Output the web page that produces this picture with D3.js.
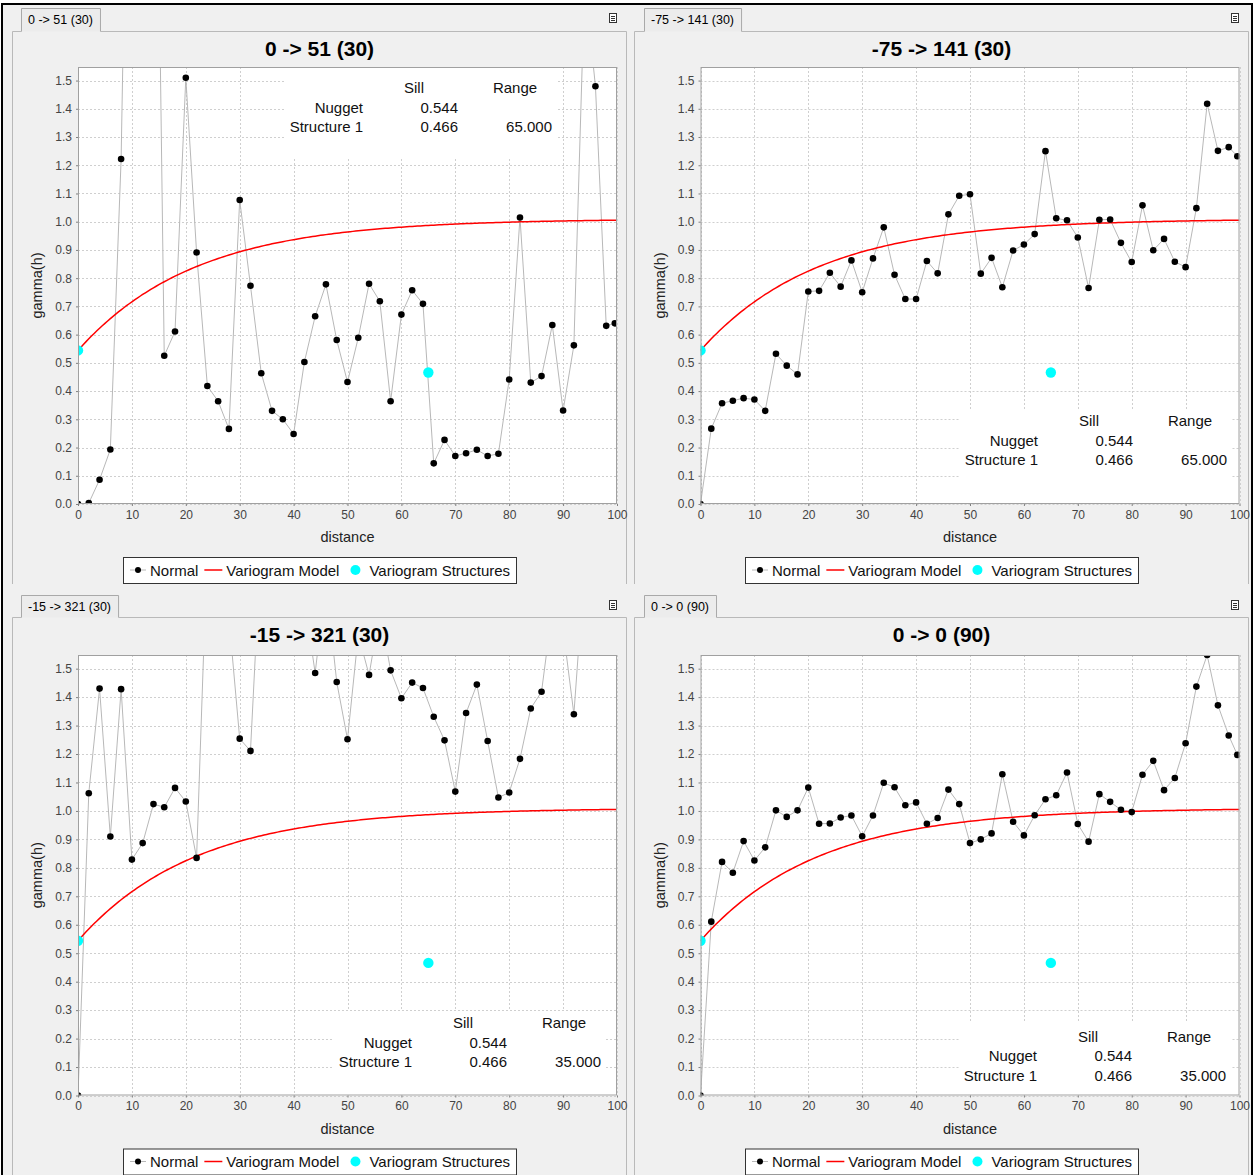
<!DOCTYPE html>
<html>
<head>
<meta charset="utf-8">
<script src="https://cdn.jsdelivr.net/npm/d3@7"></script>
<style>
  html, body { margin: 0; padding: 0; background: #ffffff; }
  svg { display: block; font-family: "Liberation Sans", Arial, sans-serif; }
</style>
</head>
<body>
<svg id="chart" width="1256" height="1175"></svg>
<script>
// ---- experimental variogram lags (distance) shared by all four directions ----
const lagDistances = [0, 2, 4, 6, 8, 10, 12, 14, 16, 18, 20, 22, 24, 26, 28, 30, 32, 34, 36, 38,
  40, 42, 44, 46, 48, 50, 52, 54, 56, 58, 60, 62, 64, 66, 68, 70, 72, 74, 76, 78,
  80, 82, 84, 86, 88, 90, 92, 94, 96, 98, 99.6];

// ---- gamma(h) per direction ----
const gamma0to51 = [0, 0.003, 0.086, 0.193, 1.222, 3.4, 3.1, 3.4, 0.525, 0.611, 1.51, 0.891, 0.418, 0.364, 0.266,
  1.077, 0.773, 0.463, 0.330, 0.300, 0.248, 0.503, 0.665, 0.778, 0.581, 0.432, 0.589, 0.780, 0.718, 0.364,
  0.671, 0.757, 0.709, 0.144, 0.227, 0.170, 0.180, 0.192, 0.170, 0.178, 0.441, 1.015, 0.430, 0.453, 0.634,
  0.331, 0.562, 1.85, 1.480, 0.631, 0.640];

const gammaM75to141 = [0, 0.267, 0.357, 0.366, 0.375, 0.370, 0.330, 0.532, 0.490, 0.459, 0.753, 0.755, 0.819,
  0.770, 0.863, 0.750, 0.870, 0.980, 0.812, 0.726, 0.726, 0.861, 0.817, 1.026, 1.092, 1.097, 0.816, 0.872,
  0.768, 0.898, 0.919, 0.956, 1.250, 1.012, 1.005, 0.944, 0.765, 1.007, 1.008, 0.925, 0.857, 1.058, 0.899,
  0.939, 0.858, 0.839, 1.048, 1.418, 1.251, 1.264, 1.232];

const gammaM15to321 = [0, 1.062, 1.430, 0.910, 1.428, 0.829, 0.887, 1.024, 1.013, 1.081, 1.033, 0.835, 1.94,
  1.9, 1.68, 1.254, 1.211, 1.96, 2.0, 1.9, 1.8, 1.745, 1.485, 1.81, 1.453, 1.252, 1.62, 1.478, 1.7, 1.494,
  1.396, 1.451, 1.432, 1.331, 1.248, 1.068, 1.344, 1.444, 1.246, 1.047, 1.065, 1.183, 1.360, 1.419, 1.71,
  1.64, 1.340, 1.865, 1.9, 1.75, 1.8];

const gamma0to0 = [0, 0.611, 0.821, 0.783, 0.894, 0.826, 0.872, 1.002, 0.979, 1.002, 1.082, 0.955, 0.956,
  0.977, 0.984, 0.911, 0.984, 1.099, 1.083, 1.020, 1.030, 0.955, 0.975, 1.075, 1.024, 0.887, 0.900, 0.921,
  1.129, 0.962, 0.914, 0.985, 1.041, 1.055, 1.135, 0.954, 0.892, 1.059, 1.032, 1.004, 0.996, 1.127, 1.176,
  1.073, 1.116, 1.238, 1.437, 1.548, 1.371, 1.265, 1.197];

// ---- direction titles ----
const directionTitles = ["0 -> 51 (30)", "-75 -> 141 (30)", "-15 -> 321 (30)", "0 -> 0 (90)"];

// ---- fitted model (nugget + one exponential structure) ----
const modelNugget = 0.544;
const modelSill = 0.466;
const modelRange = 65;

// ---- structure markers (distance, gamma) ----
const structureDistances = [0, 65];
const structureGammas = [0.544, 0.466];

// ---- model table text ----
const tableRowLabels = ["Nugget", "Structure 1"];
const tableSillLabels = ["0.544", "0.466"];
const tableRangeLabels = ["65.000", "65.000", "35.000", "35.000"];

// ---- axes ----
const xTickValues = [0, 10, 20, 30, 40, 50, 60, 70, 80, 90, 100];
const yTickValues = [0, 0.1, 0.2, 0.3, 0.4, 0.5, 0.6, 0.7, 0.8, 0.9, 1.0, 1.1, 1.2, 1.3, 1.4, 1.5];
const legendLabels = ["Normal", "Variogram Model", "Variogram Structures"];

const gammaSeries = [gamma0to51, gammaM75to141, gammaM15to321, gamma0to0];

// ---- page layout ----
const layouts = [
  { frame: [12, 31, 615, 553], tab: [21, 8], plot: [78, 67, 617, 504],
    table: { x: 285, y: 67, w: 272, h: 90, head: 88 } },
  { frame: [634, 31, 615, 553], tab: [644, 8], plot: [700.5, 67, 1239.5, 504],
    table: { x: 960, y: 410, w: 272, h: 94, head: 421 } },
  { frame: [12, 617, 615, 575], tab: [21, 595], plot: [78, 655, 617, 1095.5],
    table: { x: 334, y: 1011, w: 272, h: 85, head: 1023 } },
  { frame: [634, 617, 615, 575], tab: [644, 595], plot: [700.5, 655, 1239.5, 1095.5],
    table: { x: 959, y: 1022, w: 272, h: 74, head: 1036.5 } }
];

const BG = "#f0f0f0";
const svg = d3.select("#chart");

// outer window
svg.append("rect").attr("x", 0).attr("y", 0).attr("width", 1256).attr("height", 1175).attr("fill", "#ffffff");
svg.append("rect").attr("x", 2).attr("y", 4).attr("width", 1250).attr("height", 1190)
  .attr("fill", BG).attr("stroke", "#000").attr("stroke-width", 2);

const yMax = 1.548;
const modelFn = h => modelNugget + modelSill * (1 - Math.exp(-3 * h / modelRange));
const curveH = d3.range(0, 100.01, 0.5);

layouts.forEach((L, i) => {
  const g = svg.append("g");
  const [fx, fy, fw, fh] = L.frame;
  const [px0, py0, px1, py1] = L.plot;

  // tab
  const tabText = g.append("text").attr("x", L.tab[0] + 7).attr("y", L.tab[1] + 15.5)
    .attr("font-size", 12.5).attr("fill", "#000").text(directionTitles[i]);
  const tw = tabText.node().getComputedTextLength();
  g.insert("path", "text")
    .attr("d", `M${L.tab[0] + 0.5},${fy + 0.5} V${L.tab[1] + 0.5} H${L.tab[0] + tw + 14.5} V${fy + 0.5}`)
    .attr("fill", "#ececec").attr("stroke", "#a9a9a9");

  // frame
  g.append("path")
    .attr("d", `M${L.tab[0] + 0.5},${fy + 0.5} H${fx + 0.5} V${fy + fh} M${fx + fw - 0.5},${fy + fh} V${fy + 0.5} H${L.tab[0] + tw + 14.5}`)
    .attr("fill", "none").attr("stroke", "#b9b9b9");

  // document icon
  const ix = fx + fw - 18, iy = L.tab[1] + 5;
  g.append("rect").attr("x", ix + 0.5).attr("y", iy + 0.5).attr("width", 7).attr("height", 9)
    .attr("fill", "#fff").attr("stroke", "#333");
  [3, 5, 7].forEach(d => g.append("line").attr("x1", ix + 2).attr("x2", ix + 6)
    .attr("y1", iy + d + 0.5).attr("y2", iy + d + 0.5).attr("stroke", "#333"));

  // title
  g.append("text").attr("x", fx + fw / 2).attr("y", fy + 25)
    .attr("text-anchor", "middle").attr("font-size", 21).attr("font-weight", "bold")
    .attr("fill", "#000").text(directionTitles[i]);

  const x = d3.scaleLinear().domain([0, 100]).range([px0, px1]);
  const y = d3.scaleLinear().domain([0, yMax]).range([py1, py0]);

  // plot background
  g.append("rect").attr("x", px0).attr("y", py0).attr("width", px1 - px0).attr("height", py1 - py0)
    .attr("fill", "#ffffff");

  // grid
  const grid = g.append("g").attr("stroke", "#cfcfcf").attr("stroke-dasharray", "2,2").attr("stroke-width", 1);
  xTickValues.forEach(v => grid.append("line")
    .attr("x1", Math.round(x(v)) + 0.5).attr("x2", Math.round(x(v)) + 0.5).attr("y1", py0).attr("y2", py1));
  yTickValues.forEach(v => grid.append("line")
    .attr("x1", px0).attr("x2", px1).attr("y1", Math.round(y(v)) + 0.5).attr("y2", Math.round(y(v)) + 0.5));

  const clipId = "clip" + i;
  svg.append("clipPath").attr("id", clipId).append("rect")
    .attr("x", px0).attr("y", py0).attr("width", px1 - px0).attr("height", py1 - py0);

  // model table
  const T = L.table;
  const tg = g.append("g").attr("clip-path", `url(#${clipId})`);
  tg.append("rect").attr("x", T.x).attr("y", T.y).attr("width", T.w).attr("height", T.h).attr("fill", "#fff");
  const tt = g.append("g").attr("font-size", 15).attr("fill", "#111");
  tt.append("text").attr("x", T.x + 129).attr("y", T.head + 5).attr("text-anchor", "middle").text("Sill");
  tt.append("text").attr("x", T.x + 230).attr("y", T.head + 5).attr("text-anchor", "middle").text("Range");
  tableRowLabels.forEach((lab, r) => {
    const ry = T.head + 19.6 * (r + 1) + 5;
    tt.append("text").attr("x", T.x + 78).attr("y", ry).attr("text-anchor", "end").text(lab);
    tt.append("text").attr("x", T.x + 173).attr("y", ry).attr("text-anchor", "end").text(tableSillLabels[r]);
    if (r === 1) tt.append("text").attr("x", T.x + 267).attr("y", ry).attr("text-anchor", "end").text(tableRangeLabels[i]);
  });

  // series
  const series = g.append("g").attr("clip-path", `url(#${clipId})`);
  const pts = lagDistances.map((d, k) => [d, gammaSeries[i][k]]);
  series.append("path").datum(pts)
    .attr("d", d3.line().x(d => x(d[0])).y(d => y(d[1])))
    .attr("fill", "none").attr("stroke", "#b8b8b8").attr("stroke-width", 1);
  series.append("path").datum(curveH)
    .attr("d", d3.line().x(h => x(h)).y(h => y(modelFn(h))))
    .attr("fill", "none").attr("stroke", "#ff0000").attr("stroke-width", 1.5);
  series.selectAll("circle.pt").data(pts).join("circle").attr("class", "pt")
    .attr("cx", d => x(d[0])).attr("cy", d => y(d[1])).attr("r", 3.3).attr("fill", "#000");
  series.selectAll("circle.st").data(structureDistances).join("circle").attr("class", "st")
    .attr("cx", (d, k) => x(d)).attr("cy", (d, k) => y(structureGammas[k])).attr("r", 5.2).attr("fill", "#00ffff");

  // outline
  g.append("rect").attr("x", px0 + 0.5).attr("y", py0 + 0.5).attr("width", px1 - px0 - 1).attr("height", py1 - py0 - 1)
    .attr("fill", "none").attr("stroke", "#a0a0a0");

  // axes
  const ax = g.append("g").attr("transform", `translate(0,${py1})`)
    .call(d3.axisBottom(x).tickValues(xTickValues).tickFormat(d3.format("d")).tickSize(2).tickPadding(4));
  const ay = g.append("g").attr("transform", `translate(${px0},0)`)
    .call(d3.axisLeft(y).tickValues(yTickValues).tickFormat(d3.format(".1f")).tickSize(2).tickPadding(4));
  [ax, ay].forEach(a => {
    a.select(".domain").remove();
    a.selectAll(".tick line").attr("stroke", "#808080");
    a.selectAll(".tick text").attr("font-size", 12).attr("fill", "#444")
      .attr("font-family", "'Liberation Sans', Arial, sans-serif");
  });

  // axis titles
  g.append("text").attr("x", (px0 + px1) / 2).attr("y", py1 + 38).attr("text-anchor", "middle")
    .attr("font-size", 14.5).attr("fill", "#222").text("distance");
  g.append("text").attr("transform", `translate(${px0 - 36},${(py0 + py1) / 2}) rotate(-90)`)
    .attr("text-anchor", "middle").attr("font-size", 14.5).attr("fill", "#222").text("gamma(h)");

  // legend
  const lg = g.append("g");
  const ly = py1 + 53, lh = 26, cy = ly + lh / 2;
  const items = [];
  let cx = 0;
  const t1 = lg.append("text").attr("font-size", 15).attr("fill", "#111").text(legendLabels[0]);
  const t2 = lg.append("text").attr("font-size", 15).attr("fill", "#111").text(legendLabels[1]);
  const t3 = lg.append("text").attr("font-size", 15).attr("fill", "#111").text(legendLabels[2]);
  const w1 = t1.node().getComputedTextLength(), w2 = t2.node().getComputedTextLength(), w3 = t3.node().getComputedTextLength();
  const total = 7 + 20 + w1 + 6 + 22 + w2 + 10 + 20 + w3 + 6;
  const lx = Math.round(fx + fw / 2 - total / 2);
  lg.insert("rect", "text").attr("x", lx + 0.5).attr("y", ly + 0.5).attr("width", Math.round(total)).attr("height", lh)
    .attr("fill", "#fff").attr("stroke", "#333");
  cx = lx + 7;
  lg.insert("line", "text").attr("x1", cx).attr("x2", cx + 16).attr("y1", cy).attr("y2", cy).attr("stroke", "#b8b8b8");
  lg.insert("circle", "text").attr("cx", cx + 8).attr("cy", cy).attr("r", 3).attr("fill", "#000");
  cx += 20; t1.attr("x", cx).attr("y", cy + 5.5);
  cx += w1 + 6;
  lg.insert("line", "text").attr("x1", cx).attr("x2", cx + 18).attr("y1", cy).attr("y2", cy)
    .attr("stroke", "#ff0000").attr("stroke-width", 1.5);
  cx += 22; t2.attr("x", cx).attr("y", cy + 5.5);
  cx += w2 + 10;
  lg.insert("circle", "text").attr("cx", cx + 6).attr("cy", cy).attr("r", 5).attr("fill", "#00ffff");
  cx += 20; t3.attr("x", cx).attr("y", cy + 5.5);
});
</script>
</body>
</html>
